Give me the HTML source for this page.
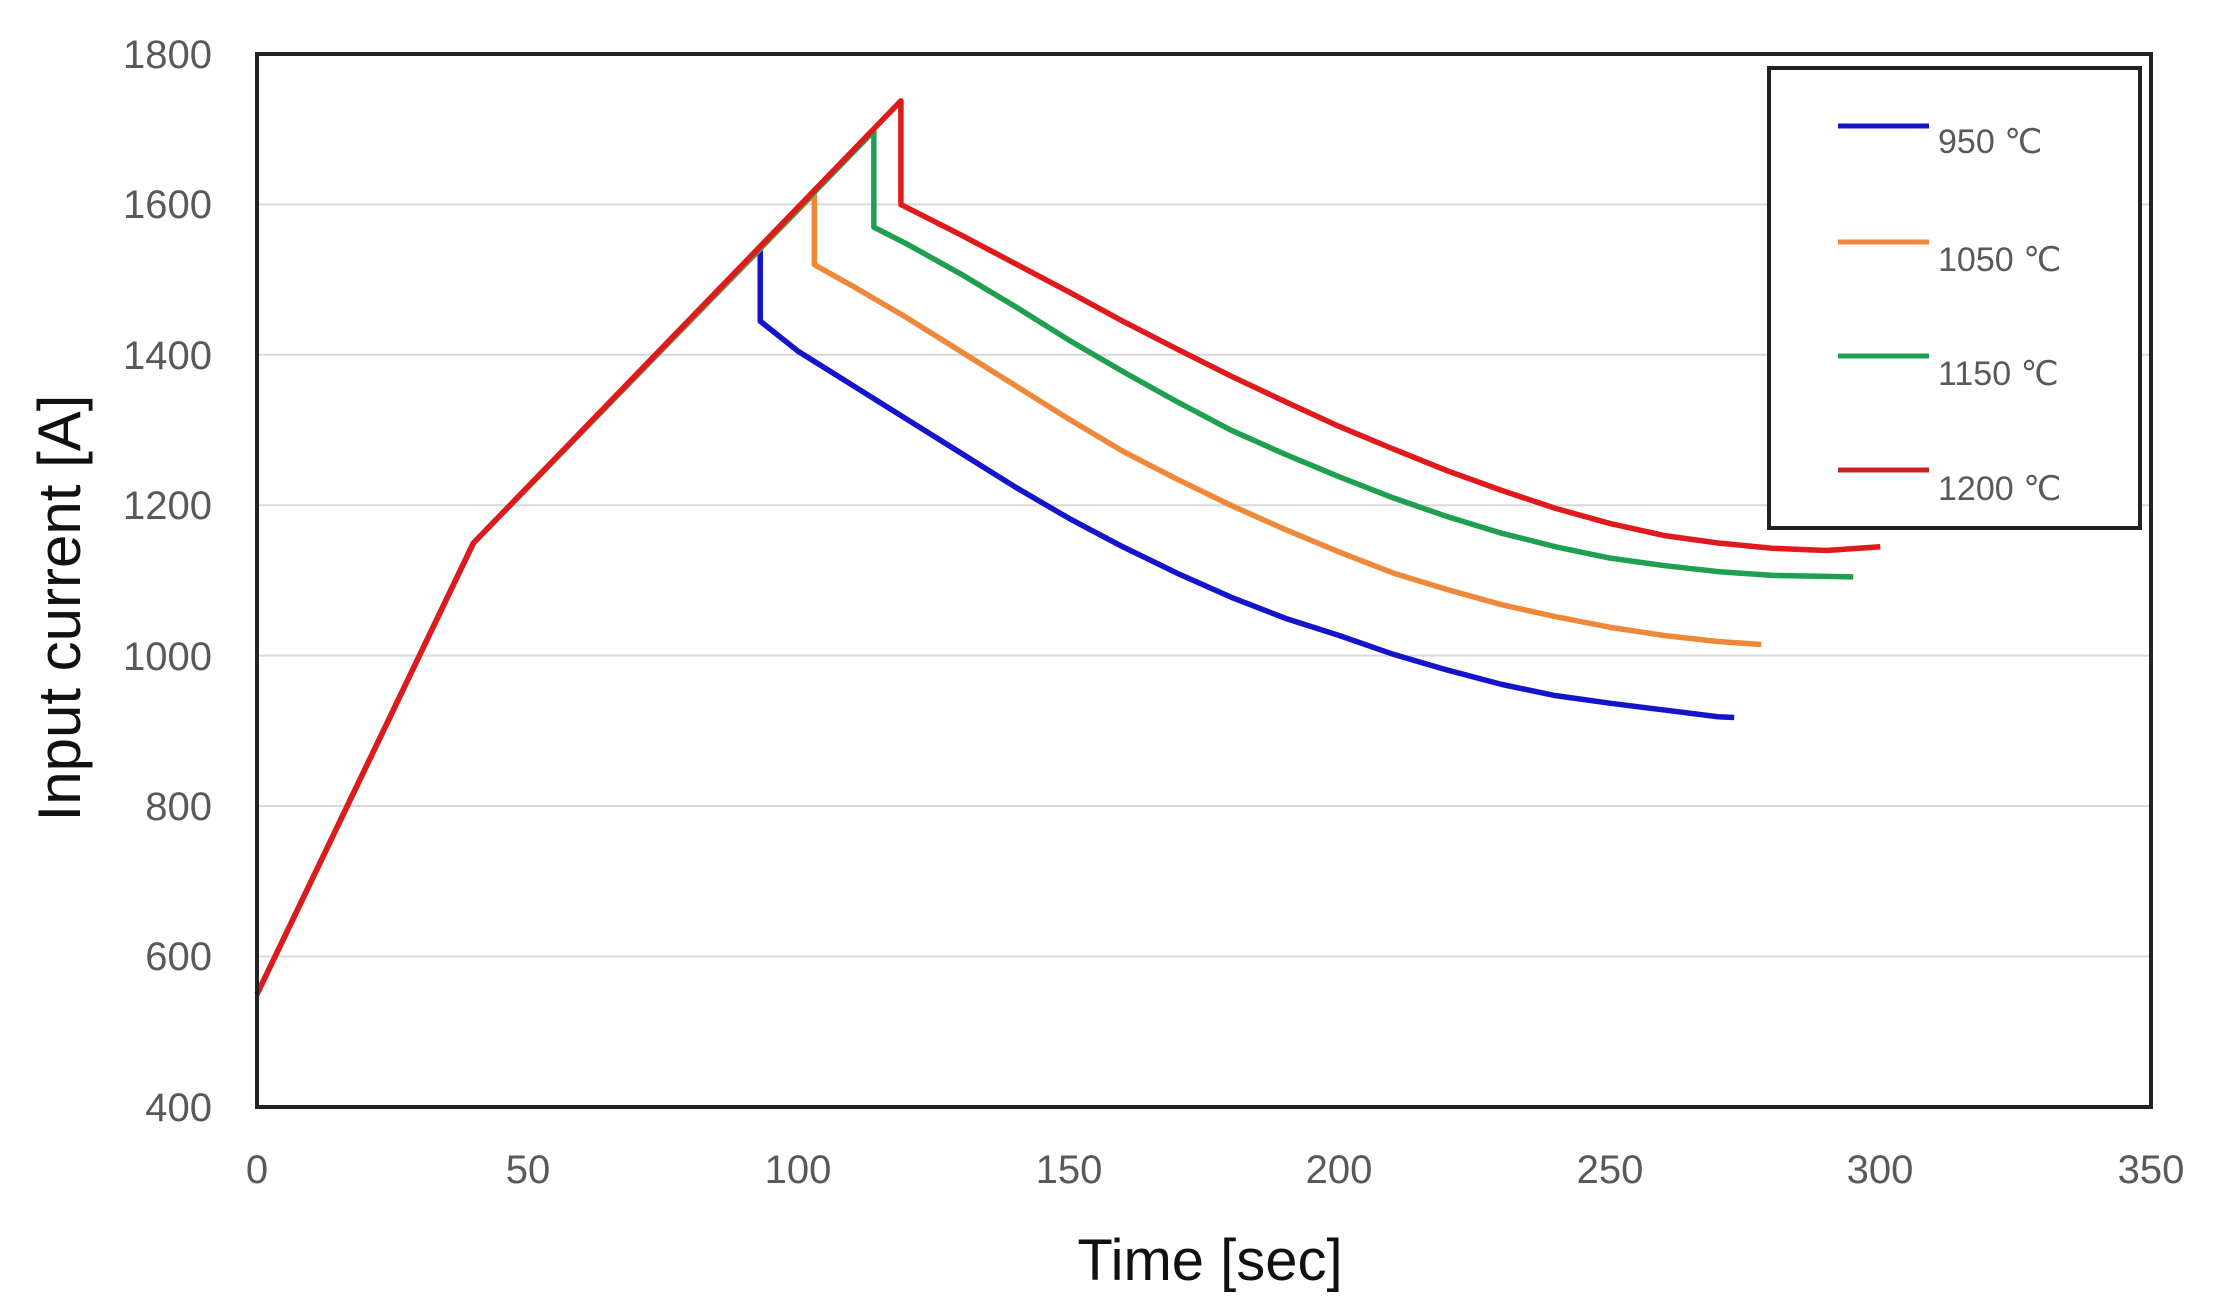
<!DOCTYPE html>
<html><head><meta charset="utf-8"><style>
body{margin:0;background:#fff}
svg text{font-family:"Liberation Sans","DejaVu Sans",sans-serif;fill:#595959}
</style></head><body>
<svg width="2226" height="1310" viewBox="0 0 2226 1310" xmlns="http://www.w3.org/2000/svg">
<rect width="2226" height="1310" fill="#fff"/>
<g stroke="#d9d9d9" stroke-width="2">
<line x1="257" x2="2151" y1="204.4" y2="204.4"/>
<line x1="257" x2="2151" y1="354.8" y2="354.8"/>
<line x1="257" x2="2151" y1="505.2" y2="505.2"/>
<line x1="257" x2="2151" y1="655.6" y2="655.6"/>
<line x1="257" x2="2151" y1="806" y2="806"/>
<line x1="257" x2="2151" y1="956.4" y2="956.4"/>
</g>
<g font-size="40" text-anchor="end">
<text x="212" y="68">1800</text><text x="212" y="218">1600</text><text x="212" y="369">1400</text>
<text x="212" y="519">1200</text><text x="212" y="670">1000</text><text x="212" y="820">800</text>
<text x="212" y="970">600</text><text x="212" y="1121">400</text>
</g>
<g font-size="40" text-anchor="middle">
<text x="257" y="1183">0</text><text x="528" y="1183">50</text><text x="798" y="1183">100</text>
<text x="1069" y="1183">150</text><text x="1339" y="1183">200</text><text x="1610" y="1183">250</text>
<text x="1880" y="1183">300</text><text x="2151" y="1183">350</text>
</g>
<text x="1210" y="1280" font-size="58" text-anchor="middle" style="fill:#111">Time [sec]</text>
<text transform="translate(80,608) rotate(-90)" font-size="60" text-anchor="middle" style="fill:#111">Input current [A]</text>
<g transform="matrix(5.411 0 0 -0.752 257 1407.8)" fill="none" stroke-width="5.5" stroke-linejoin="round">
<polyline vector-effect="non-scaling-stroke" stroke="#1414cc" points="0,550 40,1150 93,1541 93,1445 100,1405 110,1360 120,1315 130,1270 140,1225 150,1183 160,1145 170,1110 180,1078 190,1050 200,1027 210,1002 220,981 230,962 240,947 250,937 260,928 270,919 273,918"/>
<polyline vector-effect="non-scaling-stroke" stroke="#f0883a" points="0,550 40,1150 103,1615 103,1520 110,1492 120,1450 130,1405 140,1360 150,1315 160,1272 170,1235 180,1200 190,1168 200,1138 210,1110 220,1088 230,1068 240,1052 250,1038 260,1027 270,1019 278,1015"/>
<polyline vector-effect="non-scaling-stroke" stroke="#1fa050" points="0,550 40,1150 114,1698 114,1570 120,1548 130,1508 140,1465 150,1420 160,1378 170,1338 180,1300 190,1268 200,1238 210,1210 220,1185 230,1163 240,1145 250,1130 260,1120 270,1112 280,1107 295,1105"/>
<polyline vector-effect="non-scaling-stroke" stroke="#e01a1c" points="0,550 40,1150 119,1738 119,1600 130,1560 140,1522 150,1484 160,1445 170,1408 180,1372 190,1338 200,1305 210,1275 220,1246 230,1220 240,1196 250,1176 260,1160 270,1150 280,1143 290,1140 300,1145"/>
</g>
<rect x="257" y="54" width="1894" height="1053" fill="none" stroke="#222" stroke-width="4"/>
<rect x="1769" y="68" width="371" height="460" fill="#fff" stroke="#222" stroke-width="4"/>
<g stroke-width="5">
<line x1="1838" x2="1929" y1="126" y2="126" stroke="#1414cc"/>
<line x1="1838" x2="1929" y1="242" y2="242" stroke="#f0883a"/>
<line x1="1838" x2="1929" y1="356" y2="356" stroke="#1fa050"/>
<line x1="1838" x2="1929" y1="470" y2="470" stroke="#c82020"/>
</g>
<g font-size="34">
<text x="1938" y="153">950 ℃</text><text x="1938" y="271">1050 ℃</text>
<text x="1938" y="385">1150 ℃</text><text x="1938" y="500">1200 ℃</text>
</g>
</svg>
</body></html>
